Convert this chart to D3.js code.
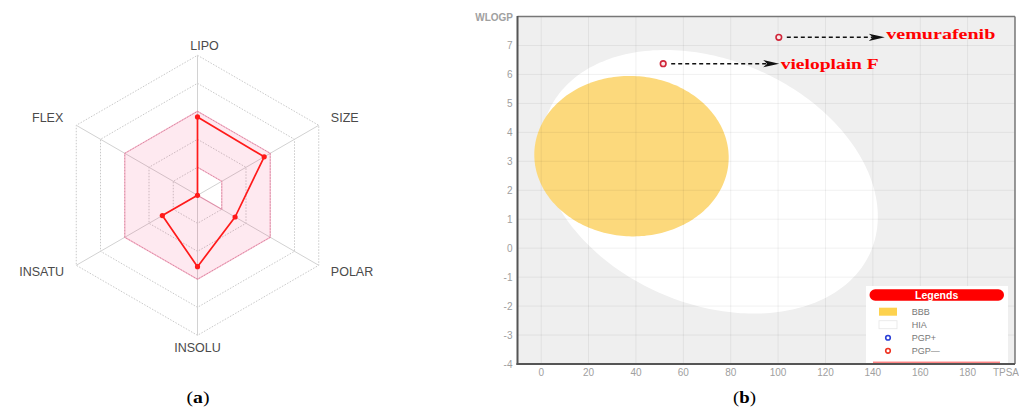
<!DOCTYPE html>
<html>
<head>
<meta charset="utf-8">
<script src="https://cdn.jsdelivr.net/npm/d3@7"></script>
<style>
  html, body { margin: 0; padding: 0; background: #fff; }
  svg { display: block; }
</style>
</head>
<body>
<svg id="fig" width="1019" height="408"></svg>
<script>
// ---------- (a) Bioavailability radar ----------
const radarAxes    = ["LIPO", "SIZE", "POLAR", "INSOLU", "INSATU", "FLEX"];
const radarValues  = [0.56, 0.55, 0.31, 0.51, 0.29, 0.0];
const optimalLow   = [0.2, 0.2, 0.2, 0.0, 0.0, 0.0];
const optimalHigh  = [0.6, 0.6, 0.6, 0.6, 0.6, 0.6];
const radarLevels  = [0.2, 0.4, 0.6, 0.8, 1.0];

// ---------- (b) BOILED-Egg ----------
const compounds      = ["vieloplain F", "vemurafenib"];
const compoundTPSA   = [51.5, 100.3];
const compoundWLOGP  = [6.37, 7.28];
const eggRegions     = ["HIA", "BBB"];
const eggCenterTPSA  = [71.051, 38.117];
const eggCenterWLOGP = [2.292, 3.177];
const eggHalfTPSA    = [71.04, 41.03];
const eggHalfWLOGP   = [4.39, 2.77];
const eggSkew        = [-1.2, -0.05];
const tpsaTicks      = [0, 20, 40, 60, 80, 100, 120, 140, 160, 180];
const wlogpTicks     = [-4, -3, -2, -1, 0, 1, 2, 3, 4, 5, 6, 7];
const legendLabels   = ["BBB", "HIA", "PGP+", "PGP\u2014"];

const svg = d3.select("#fig");
const sans = "'Liberation Sans', Arial, Helvetica, sans-serif";
const serif = "'Liberation Serif', 'Times New Roman', serif";

/* ===================== radar ===================== */
{
  const cx = 197.5, cy = 195.3, R = 140;
  const r = d3.scaleLinear().domain([0, 1]).range([0, R]);
  const angle = d3.scaleLinear().domain([0, radarAxes.length]).range([-Math.PI / 2, 1.5 * Math.PI]);
  const pt = (i, v) => [cx + r(v) * Math.cos(angle(i)), cy + r(v) * Math.sin(angle(i))];
  const g = svg.append("g");
  const poly = vals => "M" + vals.map((v, i) => pt(i, v).join(",")).join("L") + "Z";

  // concentric rings
  g.selectAll("path.ring").data(radarLevels).join("path")
    .attr("class", "ring")
    .attr("d", lv => poly(radarAxes.map(() => lv)))
    .attr("fill", "none").attr("stroke", "#c9c9c9")
    .attr("stroke-width", 1).attr("stroke-dasharray", "1.5,1.5");

  // spokes
  g.selectAll("line.spoke").data(radarAxes).join("line")
    .attr("class", "spoke")
    .attr("x1", cx).attr("y1", cy)
    .attr("x2", (d, i) => pt(i, 1)[0]).attr("y2", (d, i) => pt(i, 1)[1])
    .attr("stroke", "#d2d2d2").attr("stroke-width", 1);

  // optimal range band
  g.append("path")
    .attr("d", poly(optimalHigh) + poly(optimalLow))
    .attr("fill-rule", "evenodd")
    .attr("fill", "rgba(240,0,80,0.085)")
    .attr("stroke", "rgba(240,0,80,0.28)").attr("stroke-width", 1.2);

  // compound profile
  g.append("path")
    .attr("d", poly(radarValues))
    .attr("fill", "none").attr("stroke", "#ff1a1a")
    .attr("stroke-width", 1.7).attr("stroke-linejoin", "round");
  g.selectAll("circle.pt").data(radarValues).join("circle")
    .attr("class", "pt")
    .attr("cx", (v, i) => pt(i, v)[0]).attr("cy", (v, i) => pt(i, v)[1])
    .attr("r", 2.6).attr("fill", "#ff1a1a");

  // axis names
  const anchors = ["middle", "start", "start", "middle", "end", "end"];
  const labelR  = [0.07, 0.1, 0.1, 0.093, 0.1, 0.107];
  g.selectAll("text.axis").data(radarAxes).join("text")
    .attr("class", "axis")
    .attr("x", (d, i) => pt(i, 1 + labelR[i])[0] + (i === 0 ? 7 : 0))
    .attr("y", (d, i) => pt(i, 1 + labelR[i])[1])
    .attr("text-anchor", (d, i) => anchors[i])
    .attr("dominant-baseline", "central")
    .attr("font-family", sans).attr("font-size", 12.5)
    .attr("fill", "#4a4a4a")
    .text(d => d);
}

/* ===================== egg ===================== */
{
  const x = d3.scaleLinear().domain([-10, 200]).range([517.5, 1015]);
  const y = d3.scaleLinear().domain([-4, 8]).range([364, 16.5]);
  const [x0, x1] = x.range(), [y0, y1] = y.range();

  const defs = svg.append("defs");
  defs.append("clipPath").attr("id", "plotClip")
    .append("rect").attr("x", x0).attr("y", y1).attr("width", x1 - x0).attr("height", y0 - y1);

  const plot = svg.append("g").attr("clip-path", "url(#plotClip)");
  plot.append("rect").attr("x", x0).attr("y", y1).attr("width", x1 - x0).attr("height", y0 - y1)
    .attr("fill", "#efefef");

  // egg white and yolk
  const ts = d3.range(0, 2 * Math.PI, Math.PI / 120);
  const eggLine = d3.line().curve(d3.curveLinearClosed);
  const eggFill = { HIA: "#ffffff", BBB: "#fcd97c" };
  eggRegions.forEach((name, k) => {
    const pts = ts.map(t => [
      x(eggCenterTPSA[k] + eggHalfTPSA[k] * Math.cos(t)),
      y(eggCenterWLOGP[k] + eggSkew[k] * Math.cos(t) + eggHalfWLOGP[k] * Math.sin(t))
    ]);
    plot.append("path").attr("d", eggLine(pts)).attr("fill", eggFill[name]);
  });

  // grid
  const gridTpsa = tpsaTicks.concat([200]);
  const gridWlogp = wlogpTicks.concat([8]);
  plot.selectAll("line.gx").data(gridTpsa).join("line").attr("class", "gx")
    .attr("x1", d => x(d)).attr("x2", d => x(d)).attr("y1", y0).attr("y2", y1)
    .attr("stroke", "rgba(0,0,0,0.06)").attr("stroke-width", 1);
  plot.selectAll("line.gy").data(gridWlogp).join("line").attr("class", "gy")
    .attr("y1", d => y(d)).attr("y2", d => y(d)).attr("x1", x0).attr("x2", x1)
    .attr("stroke", "rgba(0,0,0,0.06)").attr("stroke-width", 1);

  // annotation arrows and names
  const arrowLen = [116, 106];
  const textDy   = [4.8, 1.2];
  const textLen  = [98, 109];
  compounds.forEach((name, k) => {
    const px = x(compoundTPSA[k]), py = y(compoundWLOGP[k]);
    const tip = px + arrowLen[k];
    plot.append("line")
      .attr("x1", px + 8).attr("x2", tip - 12).attr("y1", py).attr("y2", py)
      .attr("stroke", "#111").attr("stroke-width", 1.5).attr("stroke-dasharray", "4,3");
    plot.append("path")
      .attr("d", `M${tip},${py}L${tip - 16},${py - 3.6}L${tip - 12},${py}L${tip - 16},${py + 3.6}Z`)
      .attr("fill", "#111");
    plot.append("text")
      .attr("x", tip + 1.5).attr("y", py + textDy[k])
      .attr("font-family", serif).attr("font-weight", "bold").attr("font-size", 15.5)
      .attr("fill", "#ff0000")
      .attr("textLength", textLen[k]).attr("lengthAdjust", "spacingAndGlyphs")
      .text(name);
  });

  // compound points
  plot.selectAll("circle.cmp").data(compounds).join("circle").attr("class", "cmp")
    .attr("cx", (d, k) => x(compoundTPSA[k])).attr("cy", (d, k) => y(compoundWLOGP[k]))
    .attr("r", 2.8).attr("fill", "#fbe9ea").attr("stroke", "#d0263a").attr("stroke-width", 1.6);

  // legend
  const lg = plot.append("g");
  lg.append("rect").attr("x", 866).attr("y", 286).attr("width", 142).attr("height", 82).attr("fill", "#fff");
  lg.append("rect").attr("x", 869.5).attr("y", 289.3).attr("width", 134.5).attr("height", 11.4)
    .attr("rx", 5.7).attr("fill", "#ff0000");
  lg.append("text").attr("x", 936.7).attr("y", 295).attr("text-anchor", "middle")
    .attr("dominant-baseline", "central")
    .attr("font-family", sans).attr("font-weight", "bold").attr("font-size", 10.5)
    .attr("fill", "#fff").text("Legends");
  const rowY = d3.scalePoint().domain(legendLabels).range([311.7, 350.8]);
  legendLabels.forEach((lab, k) => {
    const yy = rowY(lab);
    if (k < 2) {
      lg.append("rect").attr("x", 879).attr("y", yy - 4).attr("width", 18).attr("height", 8)
        .attr("fill", k === 0 ? "#fdd24e" : "#fff")
        .attr("stroke", k === 0 ? "none" : "#e6e6e6").attr("stroke-width", 0.8);
    } else {
      lg.append("circle").attr("cx", 888).attr("cy", yy).attr("r", 2.3)
        .attr("fill", "#fff").attr("stroke", k === 2 ? "#2a3fd6" : "#ee3322").attr("stroke-width", 1.6);
    }
    lg.append("text").attr("x", 911.7).attr("y", yy).attr("dominant-baseline", "central")
      .attr("font-family", sans).attr("font-size", 9).attr("fill", "#777").text(lab);
  });
  lg.append("line").attr("x1", 873).attr("x2", 1000).attr("y1", 362.2).attr("y2", 362.2)
    .attr("stroke", "#ff2020").attr("stroke-width", 0.8);

  // frame
  svg.append("line").attr("x1", x0).attr("x2", x1).attr("y1", y1).attr("y2", y1)
    .attr("stroke", "#777").attr("stroke-width", 1.5);
  svg.append("line").attr("x1", x1).attr("x2", x1).attr("y1", y1).attr("y2", y0)
    .attr("stroke", "#777").attr("stroke-width", 1.5);
  svg.append("line").attr("x1", x0).attr("x2", x0).attr("y1", y1 - 0.5).attr("y2", y0 + 1)
    .attr("stroke", "#555").attr("stroke-width", 2);
  svg.append("line").attr("x1", x0 - 1).attr("x2", x1).attr("y1", y0).attr("y2", y0)
    .attr("stroke", "#555").attr("stroke-width", 2);

  // tick labels
  svg.selectAll("text.tx").data(tpsaTicks).join("text").attr("class", "tx")
    .attr("x", d => x(d)).attr("y", y0 + 8).attr("text-anchor", "middle")
    .attr("dominant-baseline", "central")
    .attr("font-family", sans).attr("font-size", 10).attr("fill", "#a0a0a0").text(d => d);
  svg.selectAll("text.ty").data(wlogpTicks).join("text").attr("class", "ty")
    .attr("x", x0 - 5).attr("y", d => y(d)).attr("text-anchor", "end")
    .attr("dominant-baseline", "central")
    .attr("font-family", sans).attr("font-size", 10).attr("fill", "#a0a0a0").text(d => d);
  // x-axis title sits at the last tick position, right against the edge
  svg.append("text").attr("x", 1019).attr("y", y0 + 8).attr("text-anchor", "end")
    .attr("dominant-baseline", "central")
    .attr("font-family", sans).attr("font-size", 10).attr("fill", "#a0a0a0").text("TPSA");
  svg.append("text").attr("x", x0 - 4.5).attr("y", y(8) + 0.5).attr("text-anchor", "end")
    .attr("dominant-baseline", "central")
    .attr("font-family", sans).attr("font-weight", "bold").attr("font-size", 10)
    .attr("fill", "#a0a0a0").text("WLOGP");
}

/* ===================== panel captions ===================== */
[["a", 198], ["b", 744.5]].forEach(([letter, cxp]) => {
  const t = svg.append("text").attr("x", cxp).attr("y", 402.5).attr("text-anchor", "middle")
    .attr("font-family", serif).attr("font-size", 17).attr("fill", "#000")
    .attr("textLength", 23).attr("lengthAdjust", "spacingAndGlyphs");
  t.append("tspan").text("(");
  t.append("tspan").attr("font-weight", "bold").text(letter);
  t.append("tspan").text(")");
});
</script>
</body>
</html>
